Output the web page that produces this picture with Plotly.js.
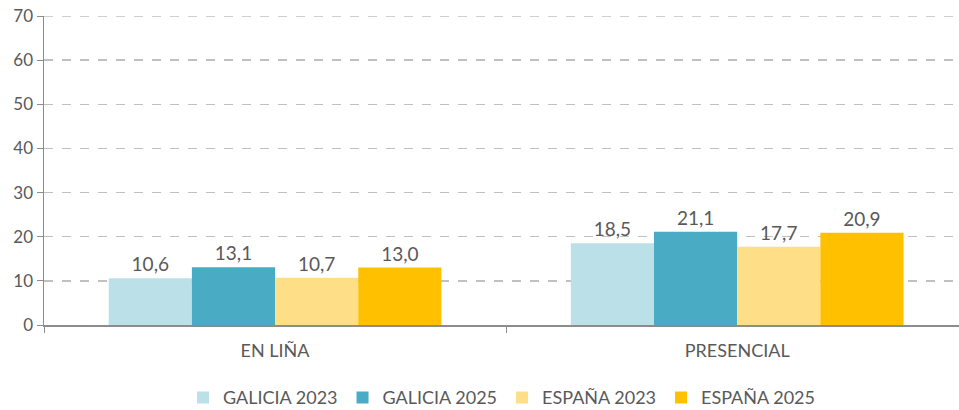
<!DOCTYPE html>
<html>
<head>
<meta charset="utf-8">
<script src="https://cdn.plot.ly/plotly-3.0.1.min.js"></script>
<style>html,body{margin:0;padding:0;background:#fff;}#chart{width:959px;height:410px;}</style>
</head>
<body>
<div id="chart"></div>
<script>
const categories = ["EN LIÑA", "PRESENCIAL"];
const seriesNames = ["GALICIA 2023", "GALICIA 2025", "ESPAÑA 2023", "ESPAÑA 2025"];
const galicia2023 = [10.6, 18.5];
const galicia2025 = [13.1, 21.1];
const espana2023 = [10.7, 17.7];
const espana2025 = [13.0, 20.9];
const yTicks = [0, 10, 20, 30, 40, 50, 60, 70];

const colors = ["#BCE0E8", "#4AABC5", "#FEDF88", "#FFC000"];
const values = [galicia2023, galicia2025, espana2023, espana2025];
const FONT = "Lato, 'Open Sans', sans-serif";

const traces = values.map((v, i) => ({
  type: "bar",
  name: seriesNames[i],
  x: categories,
  y: v,
  marker: {color: colors[i], line: {width: 0}},
  texttemplate: "%{y:.1f}",
  textposition: "outside",
  cliponaxis: false,
  textfont: {family: FONT, size: 19, color: "#595959"},
  hoverinfo: "skip"
}));

const topTick = yTicks[yTicks.length - 1];

const layout = {
  width: 959, height: 410,
  margin: {l: 44, r: 0, t: 16, b: 85, autoexpand: false},
  paper_bgcolor: "#fff", plot_bgcolor: "#fff",
  separators: ",.",
  barmode: "group",
  bargap: 0.28,
  bargroupgap: 0,
  font: {family: FONT, color: "#595959", size: 17},
  xaxis: {
    type: "category",
    range: [-0.5, 1.48],
    showline: true, linecolor: "#8c8c8c", linewidth: 1.5,
    ticks: "outside", tickson: "boundaries", ticklen: 6, tickcolor: "#8c8c8c",
    ticklabelstandoff: 9,
    tickfont: {size: 18, color: "#595959"},
    showgrid: false, zeroline: false, automargin: false
  },
  yaxis: {
    range: [0, topTick],
    tickvals: yTicks,
    showline: true, linecolor: "#8c8c8c", linewidth: 1.5,
    ticks: "outside", ticklen: 6, tickcolor: "#8c8c8c",
    tickfont: {size: 17, color: "#595959"},
    showgrid: true, gridcolor: "#c0c0c0", griddash: "dash", gridwidth: 1.3,
    zeroline: false, automargin: false
  },
  shapes: [{
    type: "line", xref: "paper", yref: "y", x0: 0, x1: 1, y0: topTick, y1: topTick,
    line: {color: "#c0c0c0", width: 1.3, dash: "dash"}, layer: "below"
  }],
  legend: {
    orientation: "h", x: 0.5, xanchor: "center",
    yref: "container", y: 0.03, yanchor: "middle",
    font: {size: 18, color: "#595959"},
    traceorder: "normal",
    itemwidth: 30
  },
  showlegend: true
};

Plotly.newPlot("chart", traces, layout, {displayModeBar: false, staticPlot: true});
</script>
</body>
</html>
